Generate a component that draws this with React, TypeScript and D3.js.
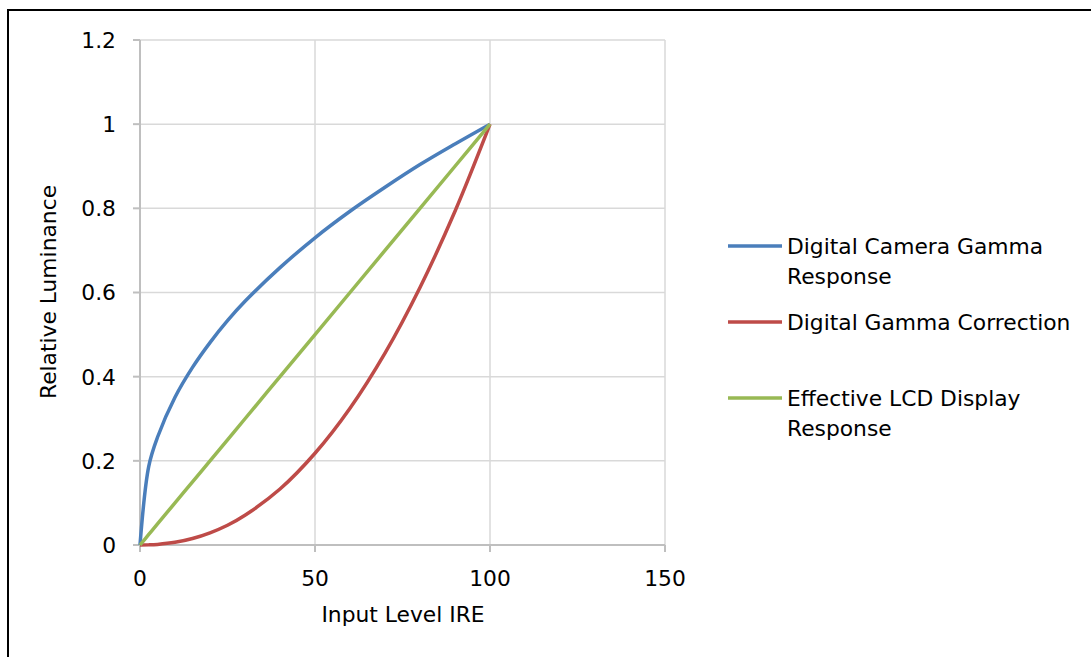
import React from "react";
import * as d3 from "d3";

const xValues = [0, 2.5, 5, 10, 15, 20, 25, 30, 40, 50, 60, 70, 80, 90, 100];
const cameraGamma = [0, 0.187, 0.256, 0.351, 0.422, 0.481, 0.533, 0.579, 0.659, 0.73, 0.793, 0.85, 0.904, 0.953, 1];
const gammaCorrection = [0, 0.0003, 0.0014, 0.0063, 0.0154, 0.029, 0.047, 0.0707, 0.133, 0.218, 0.325, 0.456, 0.612, 0.793, 1];
const lcdResponse = [0, 0.025, 0.05, 0.1, 0.15, 0.2, 0.25, 0.3, 0.4, 0.5, 0.6, 0.7, 0.8, 0.9, 1];

const seriesNames = ["Digital Camera Gamma Response", "Digital Gamma Correction", "Effective LCD Display Response"];
const seriesColors = ["#4a7ebb", "#be4b48", "#98b954"];
const xTicks = [0, 50, 100, 150];
const yTicks = [0, 0.2, 0.4, 0.6, 0.8, 1, 1.2];

const FONT = "'DejaVu Sans', sans-serif";
const FS = 21.8;

export default function App() {
  const W = 1091, H = 657;
  const x = d3.scaleLinear().domain([0, 150]).range([140, 665]);
  const y = d3.scaleLinear().domain([0, 1.2]).range([545, 40]);
  const allSeries = [cameraGamma, gammaCorrection, lcdResponse];
  const line = d3
    .line<[number, number]>()
    .x((d) => x(d[0]))
    .y((d) => y(d[1]))
    .curve(d3.curveCatmullRom.alpha(0.5));

  const legendItems = [
    { lines: ["Digital Camera Gamma", "Response"], y: 246 },
    { lines: ["Digital Gamma Correction"], y: 322 },
    { lines: ["Effective LCD Display", "Response"], y: 398 },
  ];

  return (
    <svg width={W} height={H} style={{ position: "absolute", left: 0, top: 0 }}>
      <rect x={0} y={0} width={W} height={H} fill="#fff" />
      <rect x={8} y={10} width={1090} height={660} fill="none" stroke="#000" strokeWidth={2} />
      {/* gridlines */}
      {yTicks.map((t) => (
        <line key={"gy" + t} x1={x(0)} x2={x(150)} y1={y(t)} y2={y(t)} stroke="#d9d9d9" strokeWidth={1.5} />
      ))}
      {xTicks.map((t) => (
        <line key={"gx" + t} x1={x(t)} x2={x(t)} y1={y(0)} y2={y(1.2)} stroke="#d9d9d9" strokeWidth={1.5} />
      ))}
      {/* axes */}
      <line x1={x(0)} x2={x(0)} y1={y(0) + 7} y2={y(1.2)} stroke="#bfbfbf" strokeWidth={2} />
      <line x1={x(0) - 7} x2={x(150)} y1={y(0)} y2={y(0)} stroke="#bfbfbf" strokeWidth={2} />
      {yTicks.map((t) => (
        <line key={"ty" + t} x1={x(0) - 7} x2={x(0)} y1={y(t)} y2={y(t)} stroke="#bfbfbf" strokeWidth={2} />
      ))}
      {xTicks.map((t) => (
        <line key={"tx" + t} x1={x(t)} x2={x(t)} y1={y(0)} y2={y(0) + 7} stroke="#bfbfbf" strokeWidth={2} />
      ))}
      {/* tick labels */}
      {yTicks.map((t) => (
        <text key={"ly" + t} x={116} y={y(t)} dy="0.36em" textAnchor="end" fontFamily={FONT} fontSize={FS} fill="#000">
          {String(+t.toFixed(1))}
        </text>
      ))}
      {xTicks.map((t) => (
        <text key={"lx" + t} x={x(t)} y={586} textAnchor="middle" fontFamily={FONT} fontSize={FS} fill="#000">
          {t}
        </text>
      ))}
      <text x={403} y={622} textAnchor="middle" fontFamily={FONT} fontSize={FS} fill="#000">
        Input Level IRE
      </text>
      <text
        transform={`translate(56,292) rotate(-90)`}
        textAnchor="middle"
        fontFamily={FONT}
        fontSize={FS}
        fill="#000"
      >
        Relative Luminance
      </text>
      {/* series */}
      {allSeries.map((s, i) => (
        <path
          key={"s" + i}
          d={line(xValues.map((xv, j) => [xv, s[j]] as [number, number])) || ""}
          fill="none"
          stroke={seriesColors[i]}
          strokeWidth={3.5}
          strokeLinejoin="round"
        />
      ))}
      {/* legend */}
      {legendItems.map((item, i) => (
        <g key={"lg" + i}>
          <line x1={728} x2={782} y1={item.y} y2={item.y} stroke={seriesColors[i]} strokeWidth={3.5} />
          <text x={787} y={item.y} fontFamily={FONT} fontSize={FS} fill="#000" aria-label={seriesNames[i]}>
            {item.lines.map((l, k) => (
              <tspan key={k} x={787} dy={k === 0 ? "0.36em" : 30}>
                {l}
              </tspan>
            ))}
          </text>
        </g>
      ))}
    </svg>
  );
}
